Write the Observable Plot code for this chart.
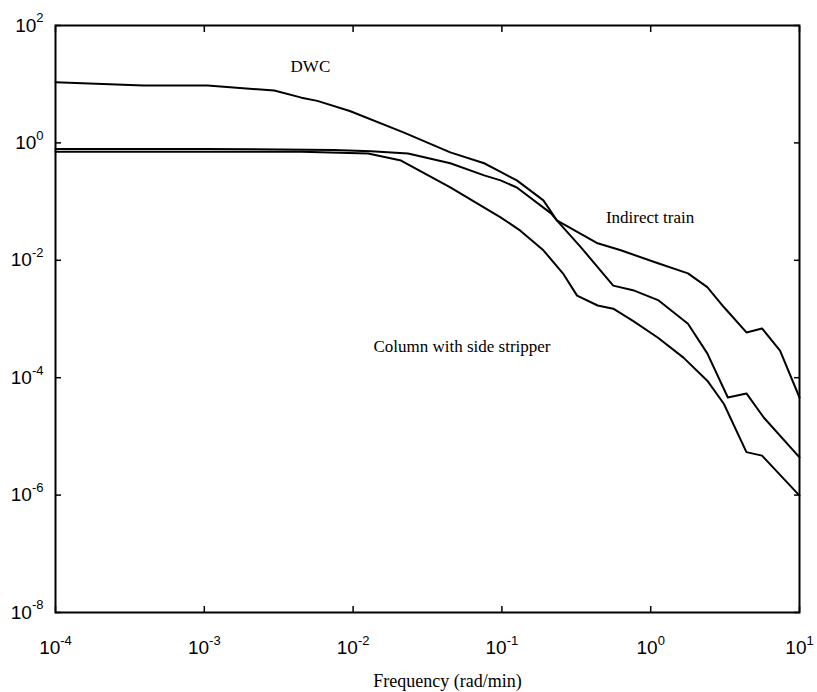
<!DOCTYPE html>
<html>
<head>
<meta charset="utf-8">
<script src="https://cdn.jsdelivr.net/npm/d3@7"></script>
<script src="https://cdn.jsdelivr.net/npm/@observablehq/plot@0.6"></script>
<style>
  html, body { margin: 0; padding: 0; background: #fff; }
</style>
</head>
<body>
<div id="chart"></div>
<script>
// Frequency response magnitude of three column configurations (log-log)
const dwcFreq = [1e-4, 3.9e-4, 1.05e-3, 2.95e-3, 4.5e-3, 5.75e-3, 9.5e-3, 0.022, 0.045, 0.076, 0.098, 0.126, 0.19, 0.234, 0.34, 0.56, 0.76, 1.12, 1.78, 2.4, 3.3, 4.4, 5.75, 10];
const dwcMag  = [10.8, 9.5, 9.5, 7.8, 5.9, 5.2, 3.5, 1.5, 0.69, 0.45, 0.32, 0.23, 0.105, 0.048, 0.0166, 0.0037, 0.0031, 0.0021, 8.3e-4, 2.6e-4, 4.6e-5, 5.4e-5, 2.1e-5, 4.4e-6];

const indirectFreq = [1e-4, 1e-3, 7.4e-3, 0.0132, 0.0234, 0.045, 0.076, 0.098, 0.126, 0.214, 0.234, 0.44, 0.63, 1.12, 1.78, 2.4, 3.1, 4.4, 5.6, 7.4, 10];
const indirectMag  = [0.79, 0.79, 0.76, 0.72, 0.66, 0.45, 0.28, 0.23, 0.174, 0.063, 0.048, 0.0195, 0.0148, 0.0089, 0.006, 0.0035, 0.0016, 5.9e-4, 6.9e-4, 2.9e-4, 4.6e-5];

const columnFreq = [1e-4, 4.5e-3, 0.0126, 0.021, 0.045, 0.098, 0.133, 0.19, 0.257, 0.32, 0.44, 0.56, 0.76, 1.12, 1.66, 2.4, 3.1, 4.4, 5.6, 10];
const columnMag  = [0.71, 0.71, 0.66, 0.50, 0.174, 0.054, 0.032, 0.0148, 0.006, 0.0025, 0.0017, 0.0015, 9.3e-4, 4.8e-4, 2.2e-4, 8.9e-5, 3.6e-5, 5.4e-6, 4.7e-6, 9.8e-7];

const xTicks = [1e-4, 1e-3, 1e-2, 1e-1, 1, 10];
const yTicks = [1e2, 1, 1e-2, 1e-4, 1e-6, 1e-8];

// Curve annotations, anchored at their text's lower-left corner
const curveLabels = [
  {text: "DWC", f: 3.8e-3, m: 16.4},
  {text: "Indirect train", f: 0.5, m: 0.044},
  {text: "Column with side stripper", f: 0.0137, m: 2.7e-4}
];

const rows = [
  ...dwcFreq.map((f, i) => ({series: "DWC", f, m: dwcMag[i]})),
  ...indirectFreq.map((f, i) => ({series: "Indirect train", f, m: indirectMag[i]})),
  ...columnFreq.map((f, i) => ({series: "Column with side stripper", f, m: columnMag[i]}))
];

const exponent = d => String(Math.round(Math.log10(d)));
const serif = "'Liberation Serif', 'Times New Roman', serif";

const chart = Plot.plot({
  width: 817,
  height: 692,
  marginLeft: 55,
  marginRight: 18,
  marginTop: 25,
  marginBottom: 80,
  style: {background: "#fff", color: "#000", fontFamily: "'Liberation Sans', Arial, sans-serif", fontSize: "19px"},
  x: {type: "log", domain: [1e-4, 10], axis: null},
  y: {type: "log", domain: [1e-8, 1e2], axis: null},
  marks: [
    Plot.line(rows, {x: "f", y: "m", z: "series", stroke: "#000", strokeWidth: 2}),
    Plot.frame({stroke: "#000", strokeWidth: 2}),
    Plot.axisX({anchor: "bottom", ticks: xTicks, tickSize: -6, tickPadding: 34, strokeWidth: 1.5, tickFormat: exponent, fontSize: 19, label: null}),
    Plot.axisX({anchor: "top", ticks: xTicks, tickSize: -6, strokeWidth: 1.5, tickFormat: () => "", label: null}),
    Plot.axisY({anchor: "left", ticks: yTicks, tickSize: -6, tickPadding: 18, strokeWidth: 1.5, tickFormat: exponent, fontSize: 19, label: null}),
    Plot.axisY({anchor: "right", ticks: yTicks, tickSize: -6, strokeWidth: 1.5, tickFormat: () => "", label: null}),
    Plot.text(curveLabels, {x: "f", y: "m", text: "text", textAnchor: "start", lineAnchor: "bottom", fontFamily: serif, fontSize: 17, fill: "#000"}),
    Plot.text(["Frequency (rad/min)"], {frameAnchor: "bottom", dx: 20, dy: 74, lineAnchor: "bottom", fontFamily: serif, fontSize: 18, fill: "#000"})
  ]
});

// Turn the exponent tick labels into powers of ten with raised exponents
d3.select(chart)
  .selectAll("g[aria-label='x-axis tick label'] text, g[aria-label='y-axis tick label'] text")
  .each(function () {
    const exp = this.textContent;
    if (!exp) return;
    const t = d3.select(this);
    t.text("");
    t.append("tspan").text("10");
    t.append("tspan").attr("dy", "-0.7em").attr("font-size", 13).text(exp);
  });

document.getElementById("chart").appendChild(chart);
</script>
</body>
</html>
